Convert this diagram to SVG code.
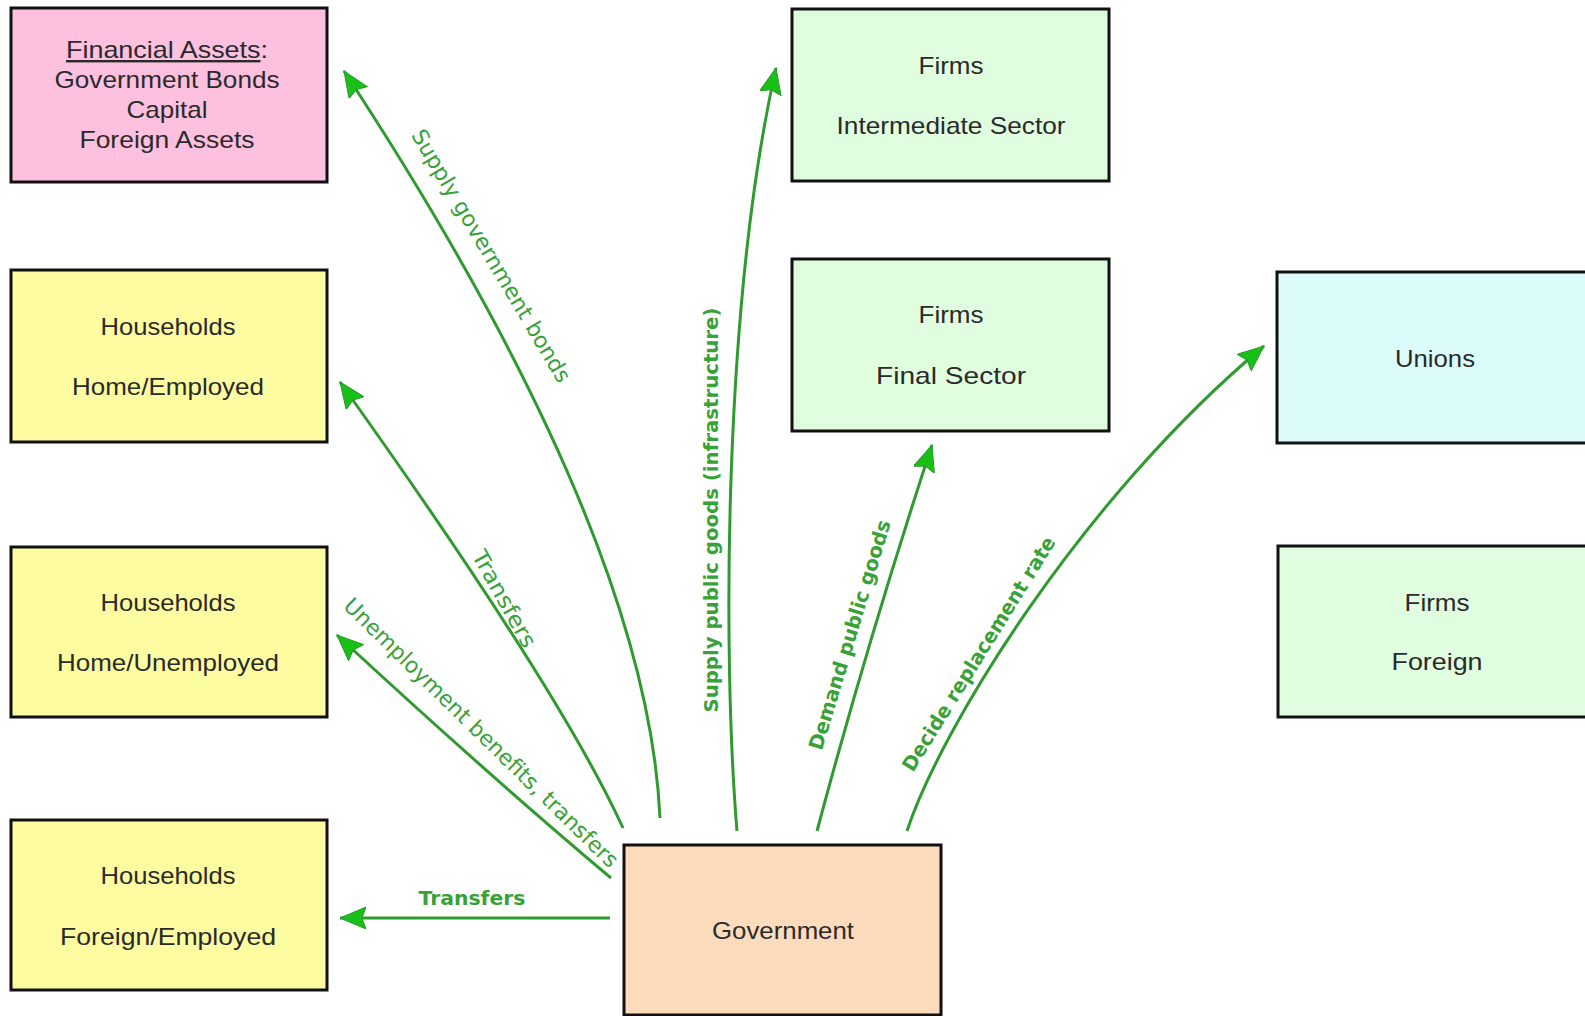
<svg xmlns="http://www.w3.org/2000/svg" width="1585" height="1016" viewBox="0 0 1585 1016">
<style>
.box{stroke:#111;stroke-width:3}
.nt{font-family:"Liberation Sans",Arial,sans-serif;font-size:24px;fill:#2a2a2a;text-anchor:middle}
.conn{fill:none;stroke:#2f9a2f;stroke-width:3}
.lbl{font-family:"DejaVu Sans",Verdana,sans-serif;fill:#38a238;text-anchor:middle}
.lb{font-weight:bold;font-size:20px}
.ln{font-weight:normal;font-size:22px}
</style>
<defs>
<marker id="ah" markerUnits="userSpaceOnUse" markerWidth="28" markerHeight="24" refX="26" refY="11" orient="auto">
<path d="M0,0 L26,11 L0,22 L4,11 z" fill="#18c018" stroke="#2a9a2a" stroke-width="1"/>
</marker>
</defs>
<rect width="1585" height="1016" fill="#fff"/>

<g id="financial-assets">
<rect class="box" x="11" y="8" width="316" height="174" fill="#fdc0df"/>
<text class="nt" x="167" y="58" textLength="202" lengthAdjust="spacingAndGlyphs"><tspan style="text-decoration:underline">Financial Assets</tspan>:</text>
<text class="nt" x="167" y="88" textLength="225" lengthAdjust="spacingAndGlyphs">Government Bonds</text>
<text class="nt" x="167" y="118" textLength="81" lengthAdjust="spacingAndGlyphs">Capital</text>
<text class="nt" x="167" y="148" textLength="175" lengthAdjust="spacingAndGlyphs">Foreign Assets</text>
</g>

<g id="households-home-employed">
<rect class="box" x="11" y="270" width="316" height="172" fill="#fefca0"/>
<text class="nt" x="168" y="335" textLength="135" lengthAdjust="spacingAndGlyphs">Households</text>
<text class="nt" x="168" y="395" textLength="192" lengthAdjust="spacingAndGlyphs">Home/Employed</text>
</g>

<g id="households-home-unemployed">
<rect class="box" x="11" y="547" width="316" height="170" fill="#fefca0"/>
<text class="nt" x="168" y="611" textLength="135" lengthAdjust="spacingAndGlyphs">Households</text>
<text class="nt" x="168" y="671" textLength="222" lengthAdjust="spacingAndGlyphs">Home/Unemployed</text>
</g>

<g id="households-foreign-employed">
<rect class="box" x="11" y="820" width="316" height="170" fill="#fefca0"/>
<text class="nt" x="168" y="884" textLength="135" lengthAdjust="spacingAndGlyphs">Households</text>
<text class="nt" x="168" y="945" textLength="216" lengthAdjust="spacingAndGlyphs">Foreign/Employed</text>
</g>

<g id="firms-intermediate">
<rect class="box" x="792" y="9" width="317" height="172" fill="#e0fde0"/>
<text class="nt" x="951" y="74" textLength="65" lengthAdjust="spacingAndGlyphs">Firms</text>
<text class="nt" x="951" y="134" textLength="229" lengthAdjust="spacingAndGlyphs">Intermediate Sector</text>
</g>

<g id="firms-final">
<rect class="box" x="792" y="259" width="317" height="172" fill="#e0fde0"/>
<text class="nt" x="951" y="323" textLength="65" lengthAdjust="spacingAndGlyphs">Firms</text>
<text class="nt" x="951" y="384" textLength="150" lengthAdjust="spacingAndGlyphs">Final Sector</text>
</g>

<g id="unions">
<rect class="box" x="1277" y="272" width="330" height="171" fill="#dcfcfc"/>
<text class="nt" x="1435" y="367" textLength="80" lengthAdjust="spacingAndGlyphs">Unions</text>
</g>

<g id="firms-foreign">
<rect class="box" x="1278" y="546" width="330" height="171" fill="#e0fde0"/>
<text class="nt" x="1437" y="611" textLength="65" lengthAdjust="spacingAndGlyphs">Firms</text>
<text class="nt" x="1437" y="670" textLength="91" lengthAdjust="spacingAndGlyphs">Foreign</text>
</g>

<g id="government">
<rect class="box" x="624" y="845" width="317" height="170" fill="#fddcbd"/>
<text class="nt" x="783" y="939" textLength="142" lengthAdjust="spacingAndGlyphs">Government</text>
</g>

<g id="connectors">
<path class="conn" marker-end="url(#ah)" d="M660,818 C652,640 560,400 344,71"/>
<path class="conn" marker-end="url(#ah)" d="M623,828 Q560,690 340,382"/>
<path class="conn" marker-end="url(#ah)" d="M611,878 Q485,772 337,635"/>
<path class="conn" marker-end="url(#ah)" d="M610,918 L340,918"/>
<path class="conn" marker-end="url(#ah)" d="M737,831 C722,650 724,300 776,68"/>
<path class="conn" marker-end="url(#ah)" d="M817,831 Q868,640 932,445"/>
<path class="conn" marker-end="url(#ah)" d="M907,831 C940,730 1080,500 1264,346"/>

<text class="lbl ln" transform="translate(491,256) rotate(59.3)" dy="0.33em" textLength="290" lengthAdjust="spacingAndGlyphs">Supply government bonds</text>
<text class="lbl ln" transform="translate(504,599) rotate(60.8)" dy="0.33em" textLength="108" lengthAdjust="spacingAndGlyphs">Transfers</text>
<text class="lbl ln" transform="translate(481,733) rotate(44.4)" dy="0.33em" textLength="374" lengthAdjust="spacingAndGlyphs">Unemployment benefits, transfers</text>
<text class="lbl lb" x="472" y="905" font-size="21" textLength="107" lengthAdjust="spacingAndGlyphs">Transfers</text>
<text class="lbl lb" transform="translate(711,510) rotate(-90)" dy="0.33em" textLength="405" lengthAdjust="spacingAndGlyphs">Supply public goods (infrastructure)</text>
<text class="lbl lb" transform="translate(850,635) rotate(-73.2)" dy="0.33em" textLength="239" lengthAdjust="spacingAndGlyphs">Demand public goods</text>
<text class="lbl lb" transform="translate(979,654) rotate(-58.2)" dy="0.33em" textLength="272" lengthAdjust="spacingAndGlyphs">Decide replacement rate</text>
</g>
</svg>
